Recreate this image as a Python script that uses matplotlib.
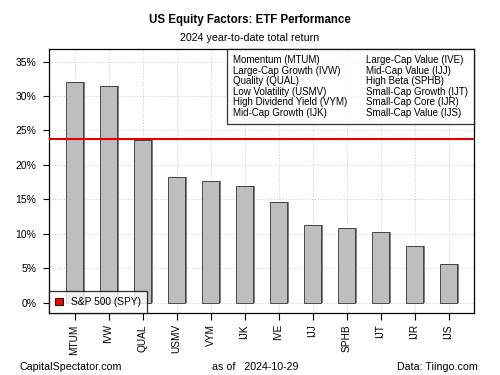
import matplotlib
matplotlib.use("Agg")
import matplotlib.pyplot as plt
from matplotlib.patches import Patch

plt.rcParams['font.family'] = ['Liberation Sans', 'DejaVu Sans']

tickers = ["MTUM", "IVW", "QUAL", "USMV", "VYM", "IJK", "IVE", "IJJ", "SPHB", "IJT", "IJR", "IJS"]
returns = [32.1, 31.5, 23.6, 18.2, 17.6, 17.0, 14.6, 11.3, 10.8, 10.2, 8.2, 5.6]
spy_return = 23.7
legend_left = ["Momentum (MTUM)", "Large-Cap Growth (IVW)", "Quality (QUAL)",
               "Low Volatility (USMV)", "High Dividend Yield (VYM)", "Mid-Cap Growth (IJK)"]
legend_right = ["Large-Cap Value (IVE)", "Mid-Cap Value (IJJ)", "High Beta (SPHB)",
                "Small-Cap Growth (IJT)", "Small-Cap Core (IJR)", "Small-Cap Value (IJS)"]

fig = plt.figure(figsize=(5, 3.75), dpi=100)
ax = fig.add_axes([0.098, 0.165, 0.85, 0.704])

xpos = [1.5 + 2 * i for i in range(len(tickers))]

# grid first
for x in xpos:
    ax.axvline(x, color="#c8c8c8", lw=0.7, ls=(0, (1, 2)), zorder=0)
for y in range(0, 40, 5):
    ax.axhline(y, color="#c8c8c8", lw=0.7, ls=(0, (1, 2)), zorder=0)

# shadow then bars
ax.bar([x + 0.12 for x in xpos], returns, width=1, color="#7f7f7f", zorder=2)
ax.bar(xpos, returns, width=1, color="#bebebe", edgecolor="#333333", lw=0.6, zorder=3)

ax.axhline(spy_return, color="#e00000", lw=1.5, zorder=4)

ax.set_xlim(0, 25)
ax.set_ylim(-1.5, 36.8)
ax.set_yticks(range(0, 40, 5))
ax.set_yticklabels([f"{v}%" for v in range(0, 40, 5)], fontsize=7.5)
ax.set_xticks(xpos)
ax.set_xticklabels(tickers, rotation=90, fontsize=7.3)
ax.tick_params(axis="x", length=5, width=0.8, pad=3)
ax.tick_params(axis="y", length=4, width=0.8, pad=5)
for s in ax.spines.values():
    s.set_linewidth(0.9)

# top-right legend box
lg = ax.legend(handles=[Patch(color="none")] * 12,
               labels=legend_left + legend_right, ncol=2, loc="upper right",
               fontsize=7, handlelength=0, handletextpad=0, columnspacing=1.9,
               labelspacing=0.05, fancybox=False, edgecolor="black",
               borderaxespad=0, borderpad=0.65)
lg.get_frame().set_linewidth(0.9)
lg.set_zorder(5)
ax.add_artist(lg)

lg2 = ax.legend(handles=[Patch(facecolor="#ff0000", edgecolor="black", lw=0.6)],
                labels=["S&P 500 (SPY)"], loc="lower left", fontsize=7.3,
                handlelength=0.8, handleheight=0.8, fancybox=False,
                edgecolor="black", borderaxespad=0, borderpad=0.6)
lg2.get_frame().set_linewidth(0.9)
lg2.set_zorder(5)

fig.text(0.5, 0.948, "US Equity Factors: ETF Performance", ha="center", va="center",
         fontsize=8.3, fontweight="bold")
fig.text(0.5, 0.898, "2024 year-to-date total return", ha="center", va="center", fontsize=7.7)
fig.text(0.04, 0.022, "CapitalSpectator.com", ha="left", va="center", fontsize=7.7)
fig.text(0.51, 0.022, "as of   2024-10-29", ha="center", va="center", fontsize=7.7)
fig.text(0.956, 0.022, "Data: Tiingo.com", ha="right", va="center", fontsize=7.7)

fig.savefig("out.png", dpi=100, facecolor="white")
